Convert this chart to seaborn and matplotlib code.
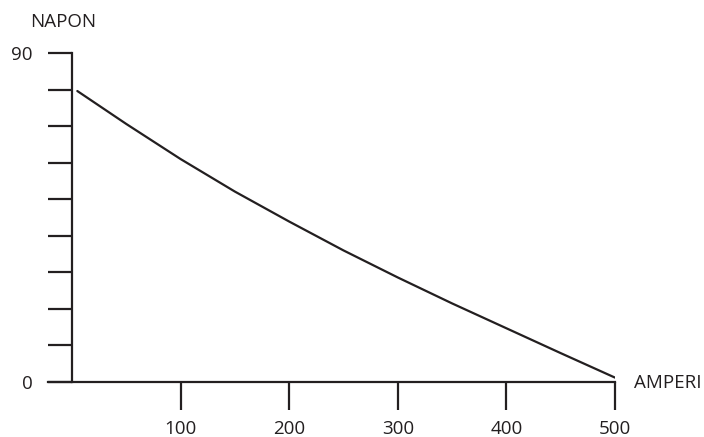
import matplotlib
matplotlib.use("Agg")
import matplotlib.pyplot as plt
import seaborn as sns

# values
amperi = [5, 50, 100, 150, 200, 250, 300, 350, 400, 450, 500]
napon = [79.6, 70.6, 61.0, 52.1, 43.9, 36.0, 28.6, 21.5, 14.7, 7.9, 1.2]
x_ticks = [100, 200, 300, 400, 500]
y_ticks = [0, 10, 20, 30, 40, 50, 60, 70, 80, 90]
y_labels = ["0", "", "", "", "", "", "", "", "", "90"]

sns.set_style("white")
plt.rcParams['font.family'] = ['Open Sans', 'DejaVu Sans']

ink = '#231f20'
fig = plt.figure(figsize=(7.04, 4.37), dpi=100)
ax = fig.add_axes([48 / 704, 55 / 437, 567 / 704, 329 / 437])

sns.lineplot(x=amperi, y=napon, color=ink, linewidth=1.6, ax=ax)

ax.set_xlim(-22, 500)
ax.set_ylim(0, 90)
ax.spines['left'].set_position(('data', 0))
ax.spines['top'].set_visible(False)
ax.spines['right'].set_visible(False)
for s in ['left', 'bottom']:
    ax.spines[s].set_color(ink)
    ax.spines[s].set_linewidth(1.6)
    ax.spines[s].set_capstyle('projecting')

ax.set_xticks(x_ticks)
ax.set_xticklabels([str(t) for t in x_ticks])
ax.set_yticks(y_ticks)
ax.set_yticklabels(y_labels)
ax.tick_params(axis='x', direction='out', length=20, width=1.6, color=ink,
               pad=7, labelsize=13.5, labelcolor=ink, bottom=True)
ax.tick_params(axis='y', direction='out', length=17.3, width=1.6, color=ink,
               pad=11, labelsize=13.5, labelcolor=ink, left=True)
ax.set_xlabel("")
ax.set_ylabel("")

fig.text(30 / 704, 1 - 22 / 437, "NAPON", fontsize=13.5, color=ink, ha='left', va='center')
fig.text(634 / 704, 1 - 383 / 437, "AMPERI", fontsize=13.5, color=ink, ha='left', va='center')

fig.savefig("out.png", dpi=100, facecolor='white')
